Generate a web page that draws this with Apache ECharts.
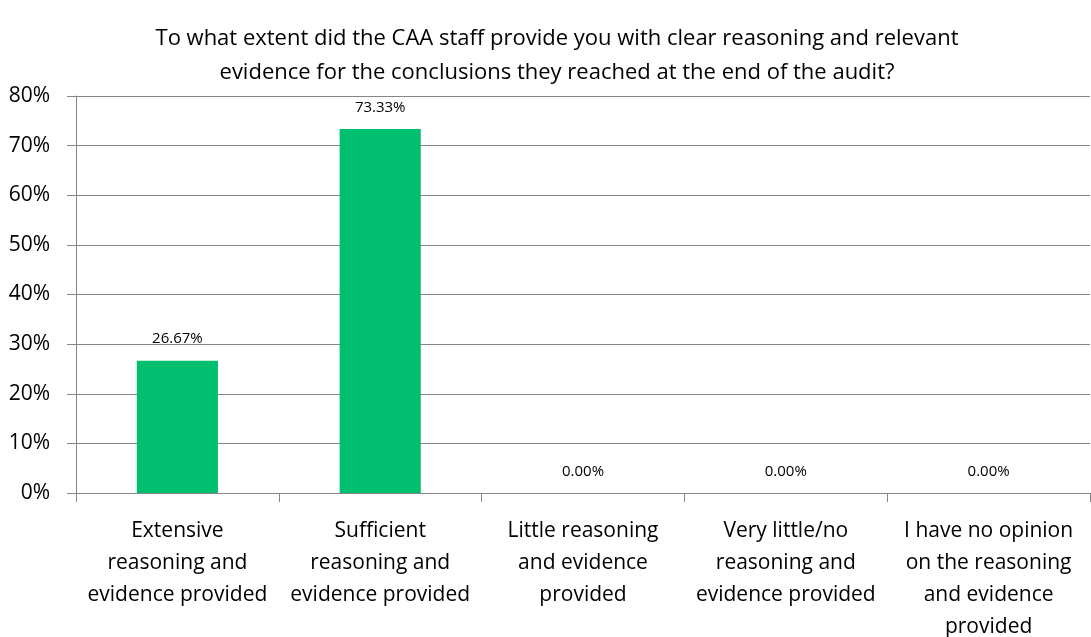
<!DOCTYPE html>
<html>
<head>
<meta charset="utf-8">
<script src="https://cdn.jsdelivr.net/npm/echarts@6/dist/echarts.min.js"></script>
<style>html,body{margin:0;padding:0;background:#fff}#c{width:1091px;height:637px}</style>
</head>
<body>
<div id="c"></div>
<script>
const titleText = "To what extent did the CAA staff provide you with clear reasoning and relevant\nevidence for the conclusions they reached at the end of the audit?";
const categories = [
  "Extensive\nreasoning and\nevidence provided",
  "Sufficient\nreasoning and\nevidence provided",
  "Little reasoning\nand evidence\nprovided",
  "Very little/no\nreasoning and\nevidence provided",
  "I have no opinion\non the reasoning\nand evidence\nprovided"
];
const values = [26.67, 73.33, 0.00, 0.00, 0.00];
const yTicks = [0, 10, 20, 30, 40, 50, 60, 70, 80];

const font = "'Open Sans', sans-serif";
const chart = echarts.init(document.getElementById('c'));
chart.setOption({
  animation: false,
  title: {
    text: titleText,
    left: 552, top: 17, textAlign: 'center',
    textStyle: { fontFamily: font, fontSize: 22, fontWeight: 'normal', color: '#000', lineHeight: 34 }
  },
  grid: { left: 76, right: 1, top: 96, bottom: 144, containLabel: false, outerBoundsMode: 'none' },
  xAxis: {
    type: 'category', data: categories,
    axisLine: { lineStyle: { color: '#868686', width: 1 } },
    axisTick: { show: true, length: 9, lineStyle: { color: '#868686' } },
    axisLabel: { color: '#000', fontFamily: font, fontSize: 21, lineHeight: 32, margin: 22, interval: 0 }
  },
  yAxis: {
    type: 'value', min: yTicks[0], max: yTicks[yTicks.length - 1], interval: 10,
    axisLine: { show: true, lineStyle: { color: '#868686' } },
    axisTick: { show: true, length: 9, lineStyle: { color: '#868686' } },
    splitLine: { lineStyle: { color: '#868686', width: 1 } },
    axisLabel: { color: '#000', fontFamily: font, fontSize: 21, margin: 26, formatter: v => v + '%' }
  },
  series: [{
    type: 'bar', data: values, barWidth: '40%',
    itemStyle: { color: '#00BF6F' },
    label: {
      show: true, position: 'top', distance: 14, color: '#000',
      fontFamily: font, fontSize: 15,
      formatter: p => p.value.toFixed(2) + '%'
    }
  }]
});
</script>
</body>
</html>
